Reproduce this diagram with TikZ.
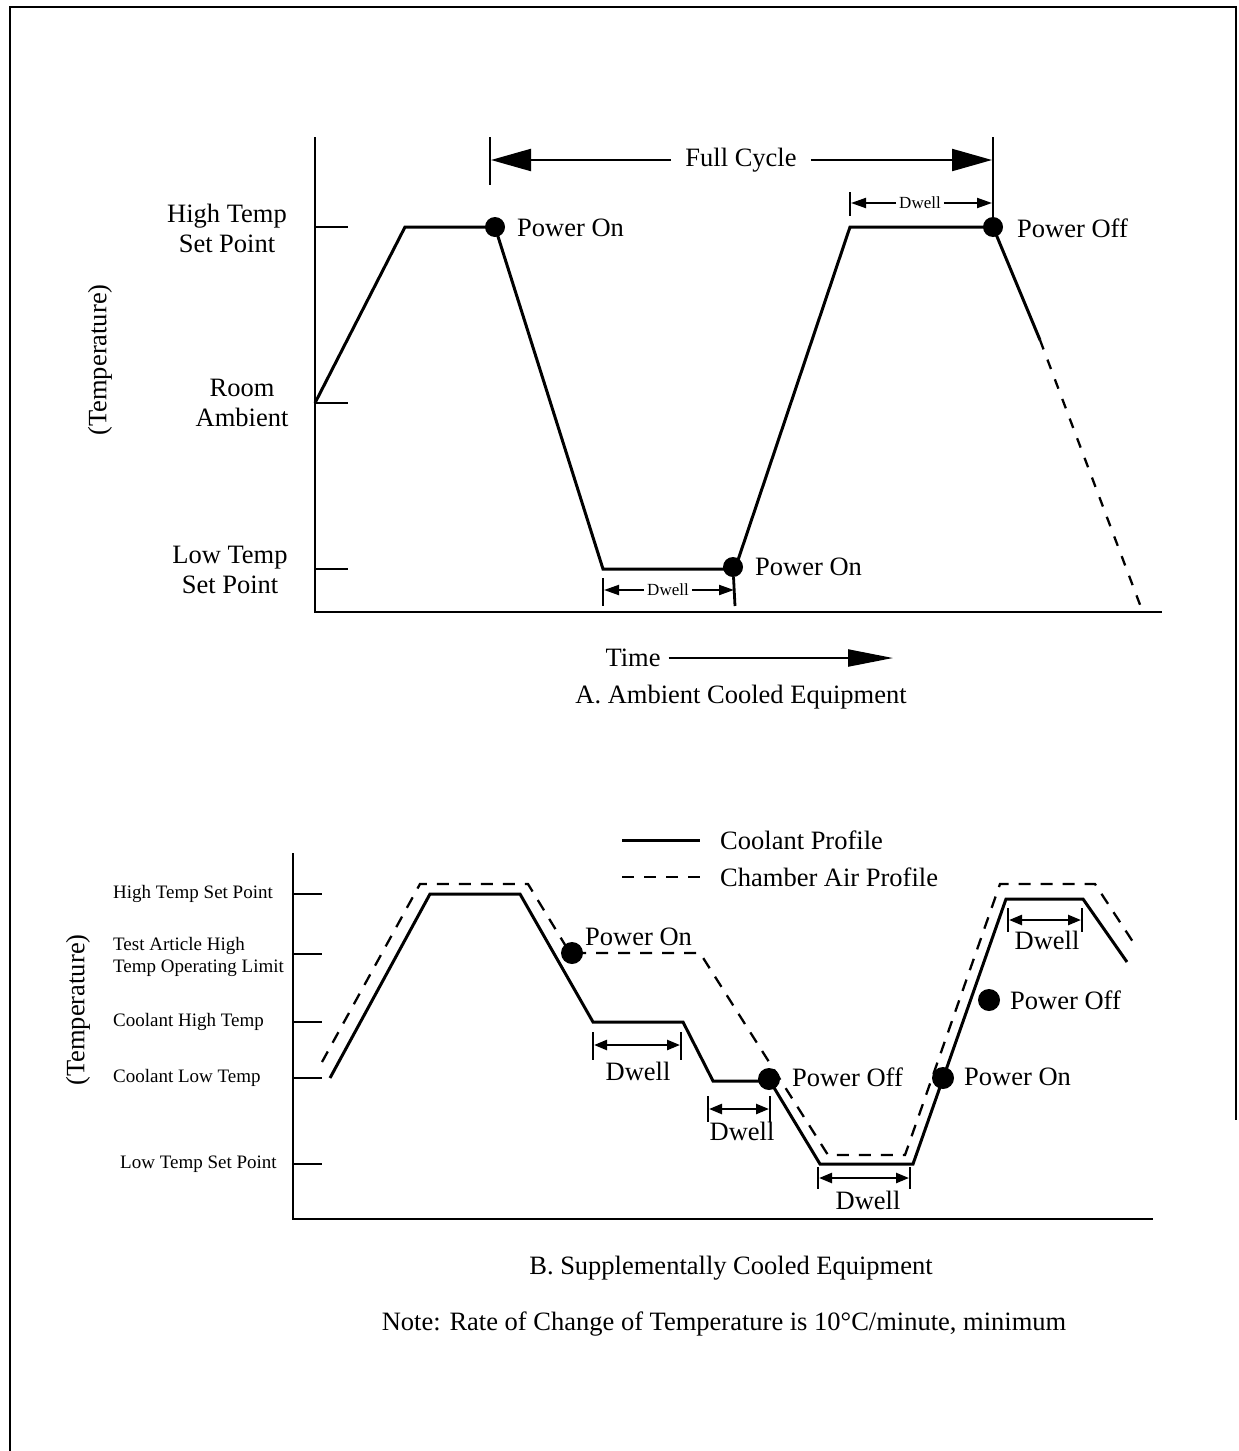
\documentclass[tikz,border=0pt]{standalone}
\usepackage{fontspec}
\setmainfont{Liberation Serif}
\usetikzlibrary{arrows.meta,calc}
\begin{document}
\begin{tikzpicture}[x=1pt,y=-1pt,
  ln/.style={line width=2.8pt},
  prof/.style={line width=3pt, line join=miter},
  dsh/.style={line width=2.3pt, dash pattern=on 12pt off 10pt},
  big/.style={font=\fontsize{26.5}{30}\selectfont, inner sep=0pt},
  sml/.style={font=\fontsize{19}{22}\selectfont, inner sep=0pt},
  tny/.style={font=\fontsize{17}{18}\selectfont, inner sep=0pt},
  dot/.style={circle, fill=black, inner sep=0pt, minimum size=20pt},
  bdot/.style={circle, fill=black, inner sep=0pt, minimum size=22pt},
  dwarr/.style={line width=2pt, -{Triangle[length=15pt,width=10pt]}},
  bdwarr/.style={line width=2.4pt, -{Triangle[length=13pt,width=10pt]}},
  bigarr/.style={line width=2.2pt, -{Triangle[length=40pt,width=22pt]}},
  timearr/.style={line width=2.2pt, -{Triangle[length=45pt,width=17pt]}},
]
\useasboundingbox (0,0) rectangle (1239,1451);
% border
\draw[ln] (10,1451) -- (10,7) -- (1236,7) -- (1236,1120);

% ================= Chart A =================
\coordinate (AyT) at (315,137);
\coordinate (AO) at (315,612);
\coordinate (AxR) at (1162,612);
\draw[ln] (AyT) -- (AO) -- (AxR);
\draw[ln] (315,227) -- (348,227);
\draw[ln] (315,403) -- (348,403);
\draw[ln] (315,569) -- (348,569);

\node[big, align=center] (lHigh) at (227,228) {High Temp\\Set Point};
\node[big, align=center] (lRoom) at (242,403) {Room\\Ambient};
\node[big, align=center] (lLow) at (230,570) {Low Temp\\Set Point};
\node[big, rotate=90] (tempA) at (100,360) {(Temperature)};

\coordinate (a0) at (315,403);
\coordinate (a1) at (405,227);
\coordinate (a2) at (495,227);
\coordinate (a3) at (603,569);
\coordinate (a4) at (735,569);
\coordinate (a5) at (850,227);
\coordinate (a6) at (993,227);
\coordinate (a7) at (1040,340);
\coordinate (a8) at (1142,610);
\draw[prof] (a0) -- (a1) -- (a2) -- (a3) -- (a4) -- (a5) -- (a6) -- (a7);
\draw[dsh, dash pattern=on 10pt off 11pt] (a7) -- (a8);
\node[dot] (pA1) at (a2) {};
\node[dot] (pA2) at (733,567) {};
\node[dot] (pA3) at (a6) {};
\node[big, anchor=west] (tA1) at (517,228) {Power On};
\node[big, anchor=west] (tA2) at (755,567) {Power On};
\node[big, anchor=west] (tA3) at (1017,228) {Power Off};

% Full cycle
\coordinate (fcLt) at (490,137); \coordinate (fcLb) at (490,185);
\coordinate (fcRt) at (993,137);
\draw[ln] (fcLt) -- (fcLb);
\draw[ln] (fcRt) -- (a6);
\node[big, inner xsep=14pt] (fc) at (741,160) {Full Cycle};
\coordinate (fcL) at (491,160); \coordinate (fcR) at (992,160);
\draw[bigarr] (fc.west) -- (fcL);
\draw[bigarr] (fc.east) -- (fcR);

% Dwell top A
\coordinate (dtL) at (850,192); \coordinate (dtLb) at (850,216);
\draw[ln] (dtL) -- (dtLb);
\node[tny, inner xsep=3pt] (dwA2) at (920,203) {Dwell};
\draw[dwarr] (dwA2.west) -- (851,203);
\draw[dwarr] (dwA2.east) -- (992,203);

% Dwell low A
\coordinate (dlL) at (603,578); \coordinate (dlLb) at (603,606);
\coordinate (dlRb) at (735,606);
\draw[ln] (dlL) -- (dlLb);
\draw[ln] (pA2) -- (dlRb);
\node[tny, inner xsep=3pt] (dwA1) at (668,590) {Dwell};
\draw[dwarr] (dwA1.west) -- (604,590);
\draw[dwarr] (dwA1.east) -- (734,590);

% Time
\node[big] (time) at (633,658) {Time};
\coordinate (timeEnd) at (893,658);
\draw[timearr] ([xshift=8pt]time.east) -- (timeEnd);
\node[big] (titleA) at (741,697) {A. Ambient Cooled Equipment};

% ================= Chart B =================
\coordinate (ByT) at (293,853);
\coordinate (BO) at (293,1219);
\coordinate (BxR) at (1153,1219);
\draw[ln] (ByT) -- (BO) -- (BxR);
\foreach \yy in {894,954,1022,1078,1164} \draw[ln] (293,\yy) -- (322,\yy);

\node[sml, anchor=west] (lb1) at (113,894) {High Temp Set Point};
\node[sml, anchor=west, align=left] (lb2) at (113,957) {Test Article High\\Temp Operating Limit};
\node[sml, anchor=west] (lb3) at (113,1022) {Coolant High Temp};
\node[sml, anchor=west] (lb4) at (113,1078) {Coolant Low Temp};
\node[sml, anchor=west] (lb5) at (120,1164) {Low Temp Set Point};
\node[big, rotate=90] (tempB) at (78,1010) {(Temperature)};

% legend
\coordinate (lg1a) at (622,840); \coordinate (lg1b) at (700,840);
\coordinate (lg2a) at (622,877); \coordinate (lg2b) at (700,877);
\draw[prof] (lg1a) -- (lg1b);
\draw[dsh] (lg2a) -- (lg2b);
\node[big, anchor=west] (lgt1) at (720,840) {Coolant Profile};
\node[big, anchor=west] (lgt2) at (720,877) {Chamber Air Profile};

% solid coolant profile
\coordinate (b0) at (330,1078);
\coordinate (b1) at (430,894);
\coordinate (b2) at (520,894);
\coordinate (b3) at (593,1022);
\coordinate (b4) at (683,1022);
\coordinate (b5) at (713,1081);
\coordinate (b6) at (770,1081);
\coordinate (b7) at (820,1164);
\coordinate (b8) at (913,1164);
\coordinate (b9) at (1006,899);
\coordinate (b10) at (1083,899);
\coordinate (b11) at (1127,962);
\draw[prof] (b0) -- (b1) -- (b2) -- (b3) -- (b4) -- (b5) -- (b6) -- (b7) -- (b8) -- (b9) -- (b10) -- (b11);

% dashed chamber air profile
\coordinate (c0) at (322,1062);
\coordinate (c1) at (420,884);
\coordinate (c2) at (528,884);
\coordinate (c3) at (570,953);
\coordinate (c4) at (700,953);
\coordinate (c5) at (828,1155);
\coordinate (c6) at (905,1155);
\coordinate (c7) at (1000,884);
\coordinate (c8) at (1095,884);
\coordinate (c9) at (1137,948);
\draw[dsh] (c0) -- (c1) -- (c2) -- (c3) -- (c4) -- (c5) -- (c6) -- (c7) -- (c8) -- (c9);

% dots
\node[bdot] (pB1) at (572,953) {};
\node[bdot] (pB2) at (769,1079) {};
\node[bdot] (pB3) at (943,1078) {};
\node[bdot] (pB4) at (989,1000) {};
\node[big, anchor=west] (tB1) at (585,937) {Power On};
\node[big, anchor=west] (tB2) at (792,1077) {Power Off};
\node[big, anchor=west] (tB3) at (964,1077) {Power On};
\node[big, anchor=west] (tB4) at (1010,1000) {Power Off};

% dwell arrows B
\coordinate (d1a) at (593,1045); \coordinate (d1b) at (681,1045);
\draw[ln] (593,1032) -- (593,1060);
\draw[ln] (681,1032) -- (681,1060);
\draw[bdwarr] ($(d1a)!0.5!(d1b)$) -- ([xshift=1pt]d1a);
\draw[bdwarr] ($(d1a)!0.5!(d1b)$) -- ([xshift=-1pt]d1b);
\node[big] (dw1) at (638,1071) {Dwell};

\coordinate (d2a) at (708,1109); \coordinate (d2b) at (770,1109);
\draw[ln] (708,1096) -- (708,1122);
\draw[ln] (770,1096) -- (770,1122);
\draw[bdwarr] ($(d2a)!0.5!(d2b)$) -- ([xshift=1pt]d2a);
\draw[bdwarr] ($(d2a)!0.5!(d2b)$) -- ([xshift=-1pt]d2b);
\node[big] (dw2) at (742,1131) {Dwell};

\coordinate (d3a) at (818,1178); \coordinate (d3b) at (910,1178);
\draw[ln] (818,1167) -- (818,1189);
\draw[ln] (910,1167) -- (910,1189);
\draw[bdwarr] ($(d3a)!0.5!(d3b)$) -- ([xshift=1pt]d3a);
\draw[bdwarr] ($(d3a)!0.5!(d3b)$) -- ([xshift=-1pt]d3b);
\node[big] (dw3) at (868,1200) {Dwell};

\coordinate (d4a) at (1008,920); \coordinate (d4b) at (1082,920);
\draw[ln] (1008,908) -- (1008,932);
\draw[ln] (1082,908) -- (1082,932);
\draw[bdwarr] ($(d4a)!0.5!(d4b)$) -- ([xshift=1pt]d4a);
\draw[bdwarr] ($(d4a)!0.5!(d4b)$) -- ([xshift=-1pt]d4b);
\node[big] (dw4) at (1047,940) {Dwell};

\node[big] (titleB) at (731,1268) {B. Supplementally Cooled Equipment};
\node[big] (note) at (724,1324) {Note: Rate of Change of Temperature is 10°C/minute, minimum};
\end{tikzpicture}
\end{document}
